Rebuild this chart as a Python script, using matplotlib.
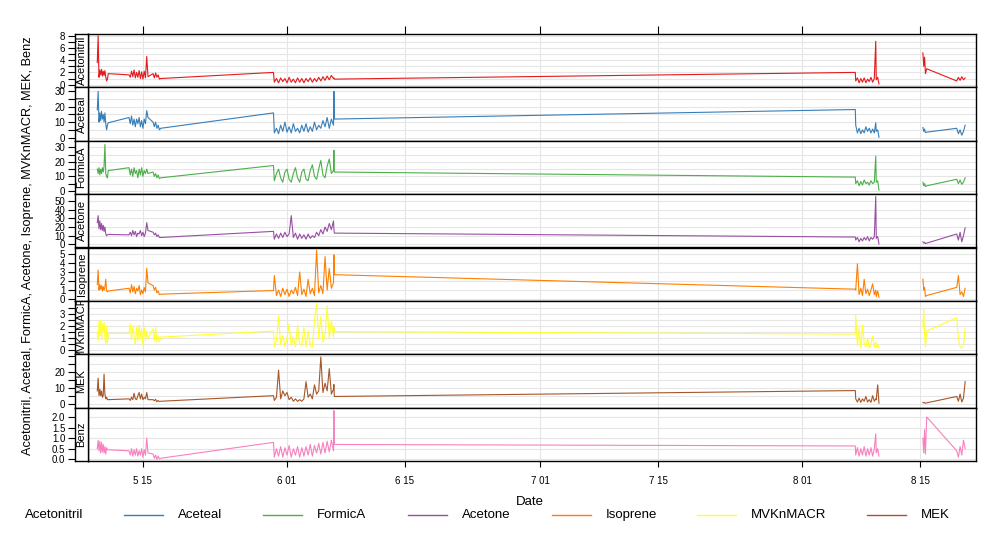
import pandas as pd
import matplotlib
matplotlib.use("Agg")
import matplotlib.pyplot as plt
from matplotlib.lines import Line2D

plt.rcParams["font.family"] = ["Liberation Sans", "DejaVu Sans"]

W, H = 983, 546
NA = float("nan")  # no data between the August blocks

# sample times, days after 1 May (one row per measurement block)
days = [8.6, 8.7, 8.8, 8.9, 9.0, 9.1, 9.2, 9.3, 9.4, 9.5, 9.6, 9.7, 9.8, 9.9,
        12.35, 12.5, 12.65, 12.8, 12.95, 13.1, 13.25, 13.4, 13.55, 13.7, 13.85, 14.0, 14.15, 14.3, 14.45, 14.6,
        15.2, 15.35, 15.5, 15.65, 15.8, 15.95, 16.1,
        29.45, 29.55, 29.8, 30.05, 30.3, 30.55, 30.8, 31.05, 31.3, 31.55, 31.8, 32.05, 32.3, 32.55, 32.8, 33.05,
        33.3, 33.55, 33.8, 34.05, 34.3, 34.55, 34.8, 35.05, 35.3, 35.55, 35.8, 36.05, 36.3, 36.55, 36.6, 36.65,
        98.3, 98.35, 98.55, 98.75, 98.95, 99.15, 99.35, 99.55, 99.75, 99.95, 100.15, 100.35, 100.55, 100.72,
        100.78, 100.95, 101.1,
        104.0,
        106.3, 106.4, 106.5, 106.6, 106.75,
        110.3, 110.5, 110.7, 110.9, 111.1, 111.3]

acetonitril = [3.6, 8.0, 1.2, 2.4, 1.6, 2.5, 1.4, 2.2, 1.5, 2.3, 1.3, 0.6, 0.9, 1.8,
               1.6, 1.2, 2.2, 1.3, 2.4, 1.1, 2.0, 1.2, 2.3, 1.0, 2.1, 0.9, 2.2, 1.1, 4.6, 1.3,
               1.8, 1.1, 1.9, 1.2, 1.6, 0.9, 1.0,
               2.0, 0.4, 1.0, 0.3, 1.1, 0.5, 1.0, 0.3, 1.2, 0.4, 0.9, 0.3, 1.1, 0.4, 1.0, 0.3,
               1.0, 0.5, 1.1, 0.4, 1.0, 0.5, 1.2, 0.6, 1.3, 0.7, 1.4, 0.8, 1.5, 1.0, 1.1, 0.9,
               2.0, 0.6, 1.1, 0.3, 1.0, 0.4, 1.1, 0.3, 0.9, 0.5, 1.2, 0.4, 1.0, 7.1, 0.8, 1.2, 0.1,
               NA,
               5.2, 3.0, 4.5, 1.8, 2.6,
               0.6, 1.2, 0.7, 1.3, 0.8, 1.1]
aceteal = [18, 30, 10, 16, 11, 17, 12, 15, 10, 16, 9, 5, 8, 9.6,
           13, 9, 14, 8, 12, 7, 12, 9, 13, 7, 11, 6, 12, 9, 17.5, 13,
           10, 7, 10, 6, 8, 5, 6,
           16, 3, 6, 2.5, 8, 4, 10, 3.5, 7, 3, 9, 4, 6, 3, 8, 4,
           9, 3.5, 7, 4, 10, 5, 8, 6, 11, 7, 13, 6, 12, 8, 30, 12,
           18.2, 8, 3, 6, 2.5, 5, 3, 7, 4, 6, 3, 5.5, 3, 9.6, 4, 5, 0.2,
           NA,
           6.5, 4, 5.5, 3.2, 3.5,
           6, 2.5, 5, 1.5, 4, 8]
formica = [15, 12, 16, 11, 15, 12, 16, 13, 17, 32, 12, 10, 9, 14,
           16, 11, 15, 10, 16, 12, 14, 9, 15, 11, 16, 10, 14, 12, 15, 12,
           13, 10, 12, 9, 11, 8.5, 9,
           17.5, 7, 12, 15, 9, 6, 13, 15, 8, 6, 12, 16, 9, 6, 13, 15,
           8, 7, 14, 18, 10, 8, 15, 21, 11, 9, 17, 22, 12, 14, 28, 13,
           9.5, 5, 7, 3.5, 6.5, 4, 7.5, 5, 6, 4, 7, 5, 6, 24, 6, 7, 0.5,
           NA,
           6, 3.5, 5, 3, 3.5,
           8, 5, 7.5, 4.5, 6, 9]
acetone = [25, 33, 18, 27, 17, 24, 16, 22, 15, 20, 12, 10, 11, 11.5,
           11, 14, 10, 16, 11, 15, 9, 13, 12, 16, 10, 14, 9, 13, 25, 16,
           14, 11, 13, 9, 11, 8, 8,
           15, 6, 12, 7, 13, 8, 14, 9, 12, 33, 8, 13, 6, 12, 7, 11,
           6, 12, 7, 10, 8, 14, 10, 17, 12, 20, 15, 24, 17, 27, 18, 13,
           8.5, 5, 8, 3, 7, 4, 8, 5, 9, 4, 8, 6, 9, 55, 7, 9, 0.5,
           NA,
           3, 1.5, 2.5, 1, 1.5,
           12, 5, 14, 3, 10, 19]
isoprene = [1.6, 3.2, 1.0, 1.6, 1.1, 1.5, 0.9, 1.4, 1.0, 1.3, 2.2, 0.9, 0.8, 0.9,
            1.2, 0.7, 1.6, 0.8, 1.4, 0.6, 1.2, 0.9, 1.5, 0.5, 1.0, 0.6, 1.3, 0.8, 3.4, 1.8,
            1.5, 1.0, 1.3, 0.7, 0.9, 0.5, 0.55,
            0.95, 2.6, 0.4, 1.0, 0.3, 1.2, 0.5, 1.1, 0.3, 1.0, 0.6, 1.3, 0.4, 3.0, 0.5, 1.1,
            0.3, 2.2, 0.6, 1.2, 0.4, 5.4, 0.7, 1.5, 0.6, 4.7, 1.0, 3.4, 1.2, 1.8, 4.9, 2.7,
            1.1, 1.0, 3.9, 0.5, 1.2, 0.4, 2.2, 0.6, 1.1, 0.4, 1.0, 1.7, 0.5, 1.0, 0.3, 0.9, 0.2,
            NA,
            2.2, 1.0, 1.3, 0.3, 0.4,
            1.3, 2.6, 0.5, 0.8, 0.3, 1.2]
mvknmacr = [1.5, 0.8, 2.4, 1.2, 2.5, 0.9, 2.2, 1.6, 2.3, 1.0, 0.5, 2.0, 0.6, 1.4,
            1.4, 2.2, 0.9, 2.0, 1.2, 0.5, 1.9, 0.8, 2.1, 1.0, 1.8, 0.4, 1.9, 0.8, 1.6, 1.0,
            1.8, 0.8, 1.9, 0.7, 1.2, 0.7, 1.1,
            1.6, 0.3, 0.8, 2.8, 0.5, 1.2, 0.3, 1.0, 2.2, 0.4, 1.1, 0.3, 2.1, 0.5, 0.4, 1.9,
            0.3, 1.6, 0.4, 0.3, 2.5, 3.9, 1.0, 2.8, 0.7, 1.2, 3.7, 1.0, 2.5, 1.1, 1.9, 1.55,
            1.35, 2.9, 0.4, 1.8, 0.2, 2.1, 0.6, 0.3, 1.0, 0.2, 0.5, 1.2, 0.3, 0.7, 0.3, 0.5, 0.2,
            NA,
            2.0, 3.4, 1.2, 0.3, 1.6,
            2.7, 1.0, 0.3, 0.2, 0.4, 1.8]
mek = [8, 16, 5, 9, 5, 8, 4, 5, 18.5, 6, 3, 4, 2.5, 2.5,
       3, 2, 4, 2.5, 6.5, 3, 2.5, 5, 7, 3, 6, 2.5, 4, 3, 7, 2.5,
       2.5, 1.8, 2.7, 1.2, 2, 1.3, 1.5,
       5, 2, 4, 21, 3, 8, 5, 7, 2.5, 4, 1.5, 3, 1.4, 2.5, 1.5, 3,
       13.8, 4, 6, 3, 11.8, 6, 8, 29.3, 7, 12.8, 8, 22, 6, 9, 12, 4.5,
       8.2, 3, 1, 3.5, 0.8, 3, 1.5, 4.5, 1, 2.5, 0.8, 5, 1.5, 3, 2.5, 11.8, 0.3,
       NA,
       0.8, 0.4, 0.7, 0.3, 0.5,
       4.5, 1.5, 6, 1, 3.5, 13.8]
benz = [0.5, 0.9, 0.4, 0.85, 0.3, 0.8, 0.35, 0.7, 0.3, 0.6, 0.25, 0.55, 0.45, 0.45,
        0.4, 0.2, 0.5, 0.15, 0.45, 0.2, 0.5, 0.15, 0.4, 0.2, 0.5, 0.1, 0.45, 0.2, 1.0, 0.3,
        0.25, 0.05, 0.2, 0.0, 0.15, 0.02, 0.05,
        0.8, 0.1, 0.5, 0.15, 0.6, 0.1, 0.55, 0.2, 0.65, 0.1, 0.5, 0.2, 0.6, 0.1, 0.55, 0.15,
        0.6, 0.2, 0.7, 0.15, 0.65, 0.3, 0.75, 0.25, 0.8, 0.3, 0.85, 0.35, 0.9, 0.4, 2.3, 0.7,
        0.63, 0.2, 0.55, 0.15, 0.5, 0.2, 0.6, 0.15, 0.5, 0.2, 0.55, 0.15, 0.5, 1.2, 0.3, 0.5, 0.15,
        NA,
        1.0, 0.3, 1.4, 0.25, 2.0,
        0.4, 0.1, 0.6, 0.2, 0.9, 0.5]

names = ["Acetonitril", "Aceteal", "FormicA", "Acetone",
         "Isoprene", "MVKnMACR", "MEK", "Benz"]
series = [acetonitril, aceteal, formica, acetone, isoprene, mvknmacr, mek, benz]
colors = ["#E41A1C", "#377EB8", "#4DAF4A", "#984EA3",
          "#FF7F00", "#FFFF33", "#A65628", "#F781BF"]

# per panel: y range, tick positions, labelled ticks
y_lims = [(-0.45, 8.29), (-2.1, 32.6), (-2.25, 34.6), (-3.5, 57.7),
          (-0.19, 5.7), (-0.31, 4.08), (-2.5, 31.0), (-0.08, 2.44)]
y_ticks = [[0, 1, 2, 3, 4, 5, 6, 7, 8],
           [0, 5, 10, 15, 20, 25, 30],
           [0, 5, 10, 15, 20, 25, 30],
           [0, 10, 20, 30, 40, 50],
           [0, 1, 2, 3, 4, 5],
           [0, 0.5, 1, 1.5, 2, 2.5, 3, 3.5],
           [0, 5, 10, 15, 20, 25, 30],
           [0, 0.5, 1.0, 1.5, 2.0]]
y_labels = [["0", "", "2", "", "4", "", "6", "", "8"],
            ["0", "", "10", "", "20", "", "30"],
            ["0", "", "10", "", "20", "", "30"],
            ["0", "10", "20", "30", "40", "50"],
            ["0", "1", "2", "3", "4", "5"],
            ["0", "", "1", "", "2", "", "3", ""],
            ["0", "", "10", "", "20", "", ""],
            ["0.0", "0.5", "1.0", "1.5", "2.0"]]

date_ticks = ["2013-05-15", "2013-06-01", "2013-06-15", "2013-07-01",
              "2013-07-15", "2013-08-01", "2013-08-15"]
date_labels = ["5 15", "6 01", "6 15", "7 01", "7 15", "8 01", "8 15"]

dates = pd.Timestamp("2013-05-01") + pd.to_timedelta(days, unit="D")
tick_pos = pd.to_datetime(date_ticks)
x_lim = (pd.Timestamp("2013-05-08 12:00"), pd.Timestamp("2013-08-21 14:00"))

fig = plt.figure(figsize=(W / 100, H / 100), dpi=100)

top, bottom = 34, 461
ph = (bottom - top) / len(names)
x0, x1, sx = 88, 976, 75
grid_c = "#E6E6E6"

for i, (name, vals, col) in enumerate(zip(names, series, colors)):
    y_top = top + i * ph
    rect_y = 1 - (y_top + ph) / H
    ax = fig.add_axes([x0 / W, rect_y, (x1 - x0) / W, ph / H])
    sa = fig.add_axes([sx / W, rect_y, (x0 - sx) / W, ph / H])

    ax.plot(dates, vals, color=col, lw=0.8)
    ax.set_xlim(x_lim)
    ax.set_ylim(y_lims[i])
    ax.set_yticks(y_ticks[i])
    ax.set_yticklabels([])
    ax.set_xticks(tick_pos)
    ax.grid(True, color=grid_c, lw=0.8)
    ax.set_axisbelow(True)
    ax.tick_params(axis="y", length=0)
    if i == 0:
        ax.tick_params(axis="x", top=True, bottom=False, labeltop=False,
                       labelbottom=False, direction="out", length=6, width=0.8)
    elif i == len(names) - 1:
        ax.set_xticklabels(date_labels)
        ax.tick_params(axis="x", direction="out", length=4.5, width=0.8,
                       labelsize=7, pad=6)
    else:
        ax.tick_params(axis="x", length=0, labelbottom=False)

    sa.set_ylim(y_lims[i])
    sa.set_yticks(y_ticks[i])
    sa.set_yticklabels(y_labels[i])
    sa.set_xticks([])
    sa.tick_params(axis="y", direction="out", length=5, width=0.8,
                   labelsize=7, pad=2)
    sa.text(0.5, 0.5, name, rotation=90, transform=sa.transAxes,
            ha="center", va="center", fontsize=8, clip_on=True)

    for a in (ax, sa):
        for s in a.spines.values():
            s.set_linewidth(1.0)

fig.text(28 / W, 1 - 246 / H,
         "Acetonitril, Aceteal, FormicA, Acetone, Isoprene, MVKnMACR, MEK, Benz",
         rotation=90, ha="center", va="center", fontsize=9.2)
fig.text(530 / W, 1 - 502 / H, "Date", ha="center", va="center", fontsize=9.5)

# key row: label of the first entry, then line + label for the rest
ky = 1 - 515 / H
fig.text(25 / W, ky, names[0], ha="left", va="center", fontsize=9.5)
key_x = [124, 263, 408, 552, 697, 867]
for kx, name, col in zip(key_x, names[1:7], colors[1:7]):
    fig.add_artist(Line2D([kx / W, (kx + 39) / W], [ky, ky],
                          transform=fig.transFigure, color=col, lw=1.0))
    fig.text((kx + 54) / W, ky, name, ha="left", va="center", fontsize=9.5)

fig.savefig("out.png", dpi=100)
